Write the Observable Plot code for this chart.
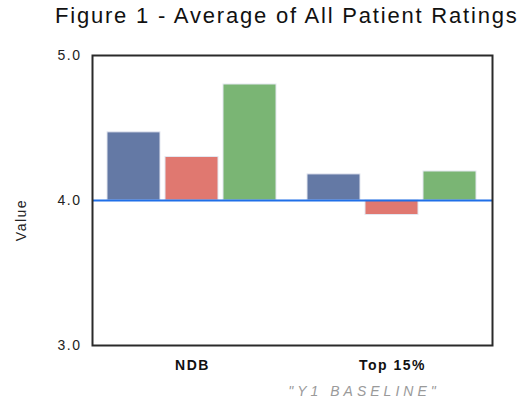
<!DOCTYPE html>
<html>
<head>
<meta charset="utf-8">
<script src="https://cdn.jsdelivr.net/npm/d3@7"></script>
<script src="https://cdn.jsdelivr.net/npm/@observablehq/plot@0.6"></script>
<style>
  html, body { margin: 0; padding: 0; background: #fff; }
  #wrap { position: relative; width: 528px; height: 404px; overflow: hidden; font-family: "Liberation Sans", Arial, sans-serif; }
  #title { position: absolute; left: 55px; top: 5px; font-size: 22px; line-height: 22px; letter-spacing: 1.8px; color: #111; white-space: nowrap; }
  #ylabel { position: absolute; left: 21px; top: 220px; transform: translate(-50%, -50%) rotate(-90deg); font-size: 14px; letter-spacing: 1.5px; color: #222; white-space: nowrap; }
  #caption { position: absolute; left: 364px; top: 383px; transform: translateX(-50%); font-size: 14px; font-style: italic; letter-spacing: 4px; color: #9a9a9a; white-space: nowrap; }
  #chart { position: absolute; left: 0; top: 40px; }
  #chart svg text { letter-spacing: 1.5px; }
</style>
</head>
<body>
<div id="wrap">
  <div id="title">Figure 1 - Average of All Patient Ratings</div>
  <div id="ylabel">Value</div>
  <div id="chart"></div>
  <div id="caption">"Y1 BASELINE"</div>
</div>
<script>
// Data
const groups = ["NDB", "Top 15%"];
const seriesNames = ["Series 1", "Series 2", "Series 3"];
const ndbValues = [4.47, 4.30, 4.80];
const top15Values = [4.18, 3.90, 4.20];
const yTicks = [3.0, 4.0, 5.0];
const baseline = 4.0;
const seriesColors = ["#6479a5", "#e07870", "#7ab574"];

const valuesByGroup = [ndbValues, top15Values];
const data = groups.flatMap((g, gi) =>
  seriesNames.map((s, si) => ({ group: g, series: s, value: valuesByGroup[gi][si] }))
);

const chart = Plot.plot({
  width: 528,
  height: 345,
  marginLeft: 91,
  marginRight: 36,
  marginTop: 15,
  marginBottom: 40,
  style: { fontFamily: "Liberation Sans, Arial, sans-serif", fontSize: "14px", color: "#000", background: "transparent", overflow: "visible" },
  fx: { domain: groups, padding: 0, label: null },
  x: { domain: seriesNames, paddingInner: 0.08, paddingOuter: 0.24, axis: null },
  y: { domain: [3, 5], label: null },
  color: { domain: seriesNames, range: seriesColors },
  marks: [
    Plot.rectY(data, { fx: "group", x: "series", y1: baseline, y2: "value", fill: "series", stroke: "#e4e7f0", strokeWidth: 1 }),
    Plot.ruleY([baseline], { stroke: "#1f6fe8", strokeWidth: 2 }),
    Plot.frame({ stroke: "#2a2a2a", strokeWidth: 2, facet: "super" }),
    Plot.axisY({ ticks: yTicks, tickFormat: d => d.toFixed(1), tickSize: 0, tickPadding: 11, fontSize: 14, label: null, fill: "#222" }),
    Plot.axisFx({ anchor: "bottom", tickSize: 0, tickPadding: 15, fontSize: 14, fontWeight: "bold", label: null, fill: "#111" })
  ]
});
document.getElementById("chart").appendChild(chart);
</script>
</body>
</html>
